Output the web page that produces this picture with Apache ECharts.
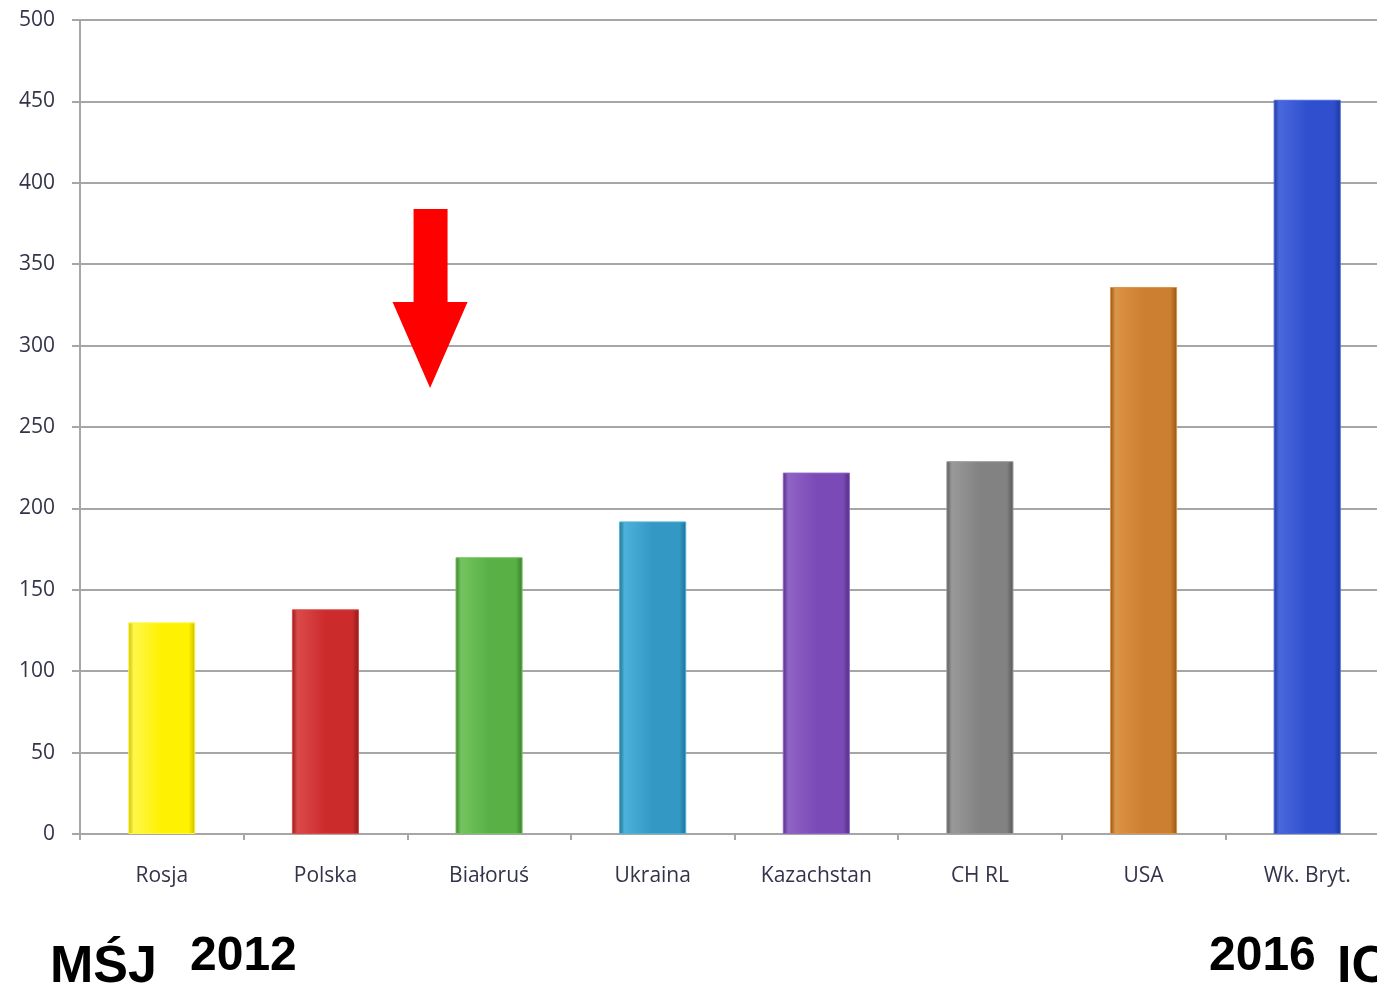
<!DOCTYPE html>
<html><head><meta charset="utf-8">
<script src="https://cdn.jsdelivr.net/npm/echarts@6/dist/echarts.min.js"></script>
<style>html,body{margin:0;padding:0;background:#fff}#c{width:1377px;height:990px}</style>
</head><body><div id="c"></div>
<script>
const categories = ['Rosja','Polska','Białoruś','Ukraina','Kazachstan','CH RL','USA','Wk. Bryt.'];
const values = [130, 138, 170, 192, 222, 229, 336, 451];
const barColors = [
  ['#fff64a','#fff200','#c8bc00'],
  ['#db4a4a','#cc2b2b','#8e1c1c'],
  ['#74c45f','#59b045','#3a7d2c'],
  ['#4cb2da','#3399c4','#1f6f90'],
  ['#9064c6','#7a4ab6','#4f2d82'],
  ['#999999','#828282','#555555'],
  ['#dc9448','#cc7f30','#905616'],
  ['#4a68dc','#2f4fcf','#1e3596']
];
const arrowValue = 329;
const chart = echarts.init(document.getElementById('c'));
const font = '"Open Sans", "Liberation Sans", sans-serif';
chart.setOption({
  animation: false,
  grid: {left: 80, top: 20, height: 814, width: 1309, outerBoundsMode: 'none', containLabel: false},
  xAxis: {
    type: 'category', data: categories,
    axisLine: {lineStyle: {color: '#a6a6a6', width: 2}},
    axisTick: {show: true, length: 6, lineStyle: {color: '#a6a6a6', width: 2}},
    axisLabel: {margin: 32, fontSize: 21, color: '#33334a', fontFamily: font, interval: 0}
  },
  yAxis: {
    type: 'value', min: 0, max: 500, interval: 50,
    axisLine: {show: true, lineStyle: {color: '#a6a6a6', width: 2}},
    axisTick: {show: true, length: 8, lineStyle: {color: '#a6a6a6', width: 2}},
    splitLine: {lineStyle: {color: '#a6a6a6', width: 2}},
    axisLabel: {margin: 25, fontSize: 21, color: '#33334a', fontFamily: font}
  },
  series: [{
    type: 'bar', barWidth: '41%',
    data: values.map((v, i) => ({
      value: v,
      itemStyle: {
        color: new echarts.graphic.LinearGradient(0, 0, 1, 0, [
          {offset: 0, color: barColors[i][2]},
          {offset: 0.08, color: barColors[i][0]},
          {offset: 0.5, color: barColors[i][1]},
          {offset: 0.9, color: barColors[i][1]},
          {offset: 1, color: barColors[i][2]}
        ]),
        borderColor: barColors[i][0], borderWidth: 1
      }
    })),
    markPoint: {
      silent: true,
      data: [{
        coord: ['Białoruś', arrowValue],
        symbol: 'path://M21 0 H55 V93 H75 L37.5 179 L0 93 H21 Z',
        symbolSize: [75, 179], symbolKeepAspect: false,
        symbolOffset: [-59, 0],
        itemStyle: {color: '#ff0000'},
        label: {show: false}
      }]
    }
  }],
  graphic: [
    {type: 'text', left: 50, top: 942, style: {text: 'MŚJ', font: 'bold 52px "Liberation Sans", Arial, sans-serif', fill: '#000'}},
    {type: 'text', left: 190, top: 933, style: {text: '2012', font: 'bold 48px "Liberation Sans", Arial, sans-serif', fill: '#000'}},
    {type: 'text', left: 1209, top: 933, style: {text: '2016', font: 'bold 48px "Liberation Sans", Arial, sans-serif', fill: '#000'}},
    {type: 'text', left: 1337, top: 942, style: {text: 'IC', font: 'bold 52px "Liberation Sans", Arial, sans-serif', fill: '#000'}}
  ]
});
</script></body></html>
